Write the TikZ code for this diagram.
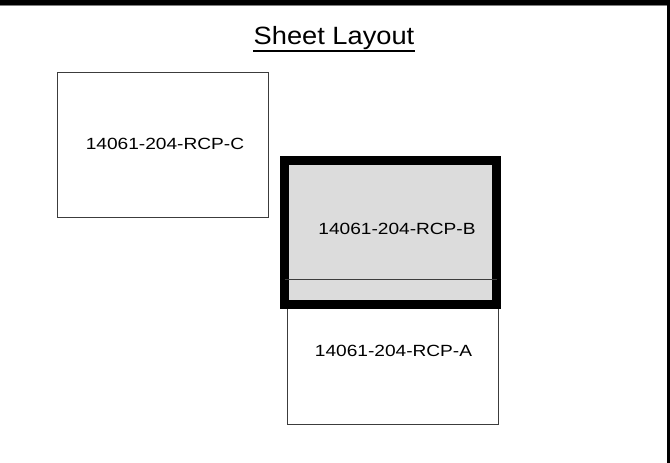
\documentclass[tikz,border=0pt]{standalone}
\usepackage{fontspec}
\setmainfont{Liberation Sans}
\usepackage{tikz}
\usetikzlibrary{positioning,calc}
\definecolor{sheetgray}{RGB}{220,220,220}
\definecolor{edgecolor}{RGB}{60,60,60}

\begin{document}
\begin{tikzpicture}[
  x=1pt, y=-1pt,
  sheet/.style={rectangle, draw=edgecolor, line width=1pt, fill=white, minimum width=211pt, minimum height=144pt, inner sep=0pt},
  active/.style={sheet, draw=black, line width=9pt, fill=sheetgray, minimum width=212pt},
  tag/.style={font=\fontsize{16.2}{18}\selectfont, xscale=1.18, inner sep=0pt}
]
  % Frame
  \useasboundingbox (0,0) rectangle (670,463);
  \fill[white] (0,0) rectangle (670,463);
  \fill[black] (0,0) rectangle (670,5);
  \fill[black] (667,0) rectangle (670,463);
  \draw[gray, line width=1pt] (0,5.5) -- (667,5.5);

  % Title
  \node[font=\fontsize{25}{28}\selectfont, xscale=1.09, inner sep=0pt, anchor=base] (title) at (334,45) {Sheet Layout};
  \draw[line width=1.5pt] ($(title.base west)+(0,6)$) -- ($(title.base east)+(0,6)$);

  % Sheets
  \node[sheet, minimum height=145pt] (rcpC) at (162.5,144.5) {};
  \node[tag] (labC) at (165,143.5) {14061-204-RCP-C};

  \node[sheet] (rcpA) at (392.5,352) {};
  \node[tag] (labA) at (393.5,350.5) {14061-204-RCP-A};

  \node[active] (rcpB) at (390.5,232.5) {};
  \node[tag] (labB) at (397,229) {14061-204-RCP-B};

  % top edge of A seen through B
  \coordinate (innerL) at ($(rcpB.west)+(4.5,0)$);
  \coordinate (innerR) at ($(rcpB.east)+(-4.5,0)$);
  \draw[edgecolor, line width=1pt] (innerL |- rcpA.north) -- (innerR |- rcpA.north);

\end{tikzpicture}
\end{document}
